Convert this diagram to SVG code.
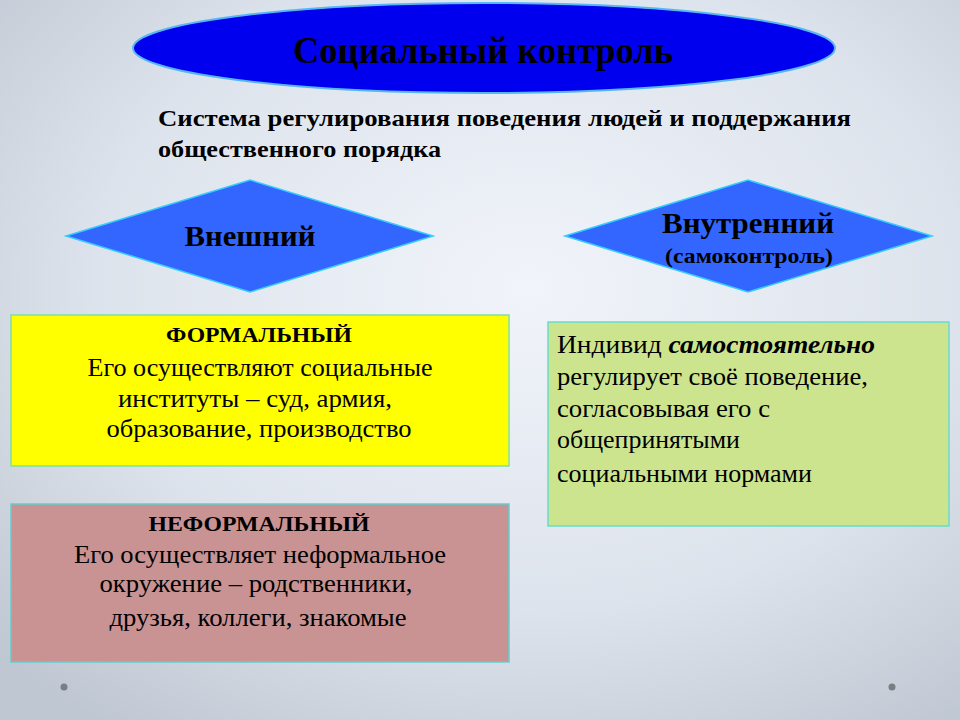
<svg xmlns="http://www.w3.org/2000/svg" width="960" height="720" viewBox="0 0 960 720">
<defs>
<radialGradient id="bg" cx="0.55" cy="0.4" r="0.75">
<stop offset="0" stop-color="#f1f4fa"/>
<stop offset="0.6" stop-color="#dde3ec"/>
<stop offset="1" stop-color="#bfc7d2"/>
</radialGradient>
<style>
.t{font-family:"Liberation Serif","DejaVu Serif","Times New Roman",serif;fill:#000}
.b{font-weight:bold}
.c{text-anchor:middle}
.dia{fill:#3366ff;stroke:#33ccff;stroke-width:1.5}
.dot{fill:#7a7d82}
</style>
</defs>
<rect width="960" height="720" fill="url(#bg)"/>

<g id="title">
<ellipse cx="484" cy="48" rx="351" ry="45" fill="#0000ee" stroke="#55b8f5" stroke-width="2"/>
<text class="t b c" x="483" y="63" font-size="38" textLength="380" lengthAdjust="spacingAndGlyphs" fill="#000022">Социальный контроль</text>
</g>

<g id="definition">
<text class="t b" x="158" y="126" font-size="24" textLength="693" lengthAdjust="spacingAndGlyphs">Система регулирования поведения людей и поддержания</text>
<text class="t b" x="158" y="157" font-size="24" textLength="283" lengthAdjust="spacingAndGlyphs">общественного порядка</text>
</g>

<g id="external">
<polygon class="dia" points="66,236 250,180 433,236 250,292"/>
<text class="t b c" x="250" y="246" font-size="29" textLength="131" lengthAdjust="spacingAndGlyphs" fill="#000022">Внешний</text>
</g>

<g id="internal">
<polygon class="dia" points="565,236 748,180 932,236 748,292"/>
<text class="t b c" x="748" y="233" font-size="30" textLength="172" lengthAdjust="spacingAndGlyphs" fill="#000022">Внутренний</text>
<text class="t b c" x="749" y="263" font-size="21" textLength="168" lengthAdjust="spacingAndGlyphs" fill="#000022">(самоконтроль)</text>
</g>

<g id="formal">
<rect x="11" y="315" width="498" height="151" fill="#ffff00" stroke="#80e0a0" stroke-width="1.5"/>
<text class="t b c" x="259" y="342" font-size="22" textLength="186" lengthAdjust="spacingAndGlyphs">ФОРМАЛЬНЫЙ</text>
<text class="t c" x="260" y="376" font-size="26" textLength="345" lengthAdjust="spacingAndGlyphs">Его осуществляют социальные</text>
<text class="t c" x="255" y="407" font-size="26" textLength="274" lengthAdjust="spacingAndGlyphs">институты – суд, армия,</text>
<text class="t c" x="259" y="437" font-size="26" textLength="305" lengthAdjust="spacingAndGlyphs">образование, производство</text>
</g>

<g id="informal">
<rect x="11" y="504" width="498" height="158" fill="#c99393" stroke="#66cccc" stroke-width="1.5"/>
<text class="t b c" x="259" y="531" font-size="22" textLength="221" lengthAdjust="spacingAndGlyphs" fill="#1a0000">НЕФОРМАЛЬНЫЙ</text>
<text class="t c" x="260" y="563" font-size="26" textLength="372" lengthAdjust="spacingAndGlyphs" fill="#1a0000">Его осуществляет неформальное</text>
<text class="t c" x="256" y="592" font-size="26" textLength="313" lengthAdjust="spacingAndGlyphs" fill="#1a0000">окружение – родственники,</text>
<text class="t c" x="258" y="626" font-size="26" textLength="297" lengthAdjust="spacingAndGlyphs" fill="#1a0000">друзья, коллеги, знакомые</text>
</g>

<g id="selfcontrol">
<rect x="548" y="322" width="401" height="204" fill="#cde48e" stroke="#66ddcc" stroke-width="1.5"/>
<text class="t" x="557" y="353" font-size="26" textLength="318" lengthAdjust="spacingAndGlyphs">Индивид <tspan font-weight="bold" font-style="italic">самостоятельно</tspan></text>
<text class="t" x="557" y="385" font-size="26" textLength="311" lengthAdjust="spacingAndGlyphs">регулирует своё поведение,</text>
<text class="t" x="557" y="417" font-size="26" textLength="213" lengthAdjust="spacingAndGlyphs">согласовывая его с</text>
<text class="t" x="557" y="448" font-size="26" textLength="183" lengthAdjust="spacingAndGlyphs">общепринятыми</text>
<text class="t" x="557" y="482" font-size="26" textLength="255" lengthAdjust="spacingAndGlyphs">социальными нормами</text>
</g>

<g id="connectors"></g>

<circle class="dot" cx="64" cy="687" r="3.5"/>
<circle class="dot" cx="892" cy="687" r="3.5"/>
</svg>
